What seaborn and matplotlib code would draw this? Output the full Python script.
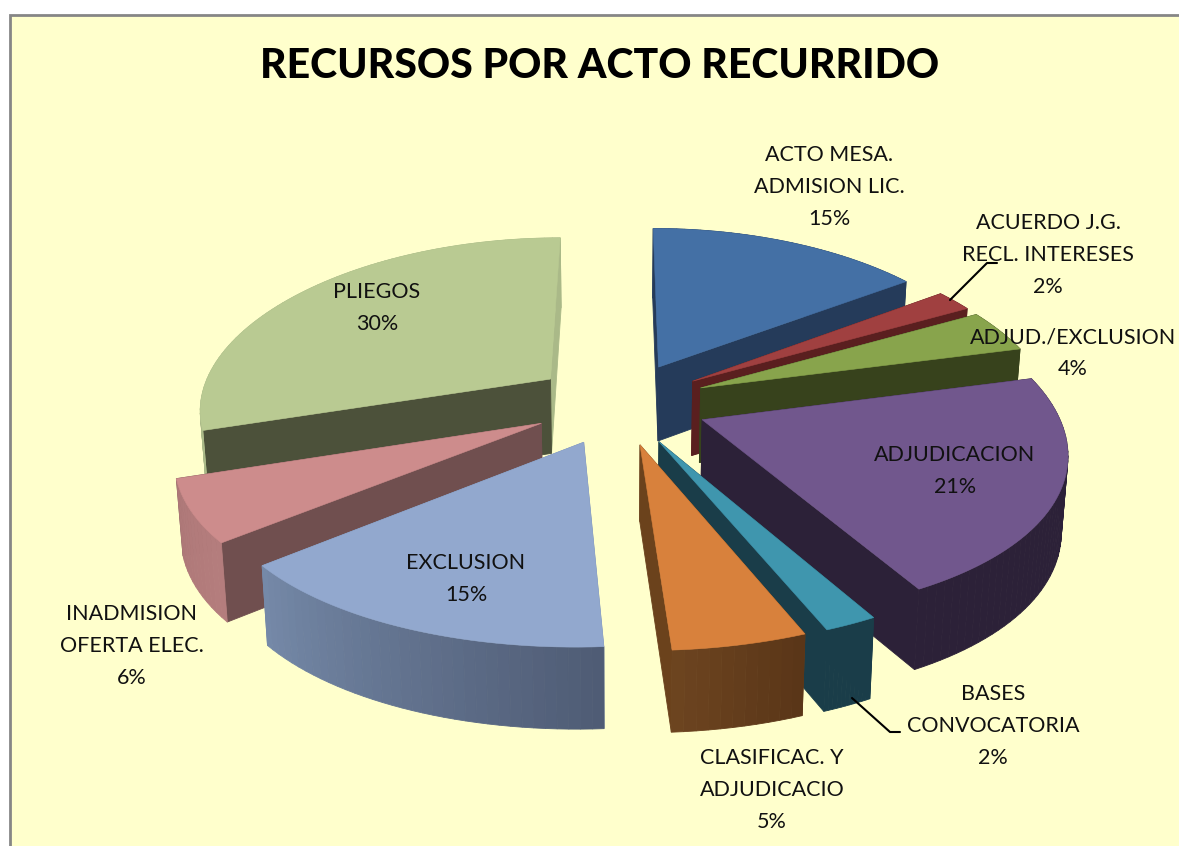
import numpy as np
import matplotlib
matplotlib.use("Agg")
import matplotlib.pyplot as plt
import seaborn as sns

# Chart data
categories = ["ACTO MESA.\nADMISION LIC.", "ACUERDO J.G.\nRECL. INTERESES", "ADJUD./EXCLUSION",
              "ADJUDICACION", "BASES\nCONVOCATORIA", "CLASIFICAC. Y\nADJUDICACIO",
              "EXCLUSION", "INADMISION\nOFERTA ELEC.", "PLIEGOS"]
values = [15, 2, 4, 21, 2, 5, 15, 6, 30]

# Colours: top face, side walls, rim start, rim end
top_colors = ["#4470A5", "#A04040", "#88A44C", "#71578D", "#3F96AE", "#D8813C", "#92A8CE", "#CD8C8C", "#B9CA92"]
wall_colors = ["#253B5A", "#5A1F1F", "#37421C", "#2C2138", "#1A3D49", "#6B421C", "#7A8FB0", "#704F4F", "#4C513A"]
end_wall_colors = ["#253B5A", "#5A1F1F", "#37421C", "#2C2138", "#1A3D49", "#6B421C", "#7A8FB0", "#704F4F", "#AAB988"]
rim_start = ["#253B5A", "#5A1F1F", "#37421C", "#2C2138", "#1A3D49", "#5A3618", "#4F5C75", "#B47D7D", "#AAB988"]
rim_end = ["#253B5A", "#5A1F1F", "#37421C", "#2C2138", "#1A3D49", "#6E4520", "#768AA9", "#AE7878", "#AAB988"]

# Label centres in pixels
label_pos = [(829, 187), (1048, 255), (1073, 353), (955, 471), (993, 726), (772, 790), (466, 579), (132, 646), (377, 308)]

# Projection of the tilted pie
cx, cy = 620, 403
R, A = 352, 166
dist = 7.5
dist_x = 6.0
explode = 0.25
height = 75


def project(x, y, down=False):
    s = dist / (dist + y)
    px = cx + R * x * dist_x / (dist_x + y)
    py = cy - A * y * s
    if down:
        px = cx + (px - cx) * 0.985
        py = py + height * s ** 0.5
    return px, py


def quad(x1, y1, x2, y2):
    a = project(x1, y1)
    b = project(x2, y2)
    c = project(x2, y2, True)
    d = project(x1, y1, True)
    return [a[0], b[0], c[0], d[0]], [a[1], b[1], c[1], d[1]]


sns.set_theme(style="white")
plt.rcParams['font.family'] = ['Lato', 'DejaVu Sans']

fig = plt.figure(figsize=(11.79, 8.46), dpi=100)
ax = fig.add_axes([0, 0, 1, 1])
ax.set_xlim(0, 1179)
ax.set_ylim(846, 0)
ax.axis("off")

# Chart area with its grey frame
ax.fill([10, 1185, 1185, 10], [15, 15, 855, 855], facecolor="#FFFFCC", edgecolor="#868686", linewidth=2, zorder=0)

# Work out every slice from the values
fractions = np.array(values) / sum(values)
ends = np.cumsum(fractions) * 2 * np.pi
starts = ends - fractions * 2 * np.pi

slices = []
for i in range(len(values)):
    mid = (starts[i] + ends[i]) / 2
    ox, oy = explode * np.sin(mid), explode * np.cos(mid)
    theta = np.linspace(starts[i], ends[i], max(int(fractions[i] * 240), 12))
    xs = ox + np.sin(theta)
    ys = oy + np.cos(theta)
    slices.append((oy + np.cos(mid) * 0.5, i, ox, oy, xs, ys))

# Back to front
z = 1
for _, i, ox, oy, xs, ys in sorted(slices, key=lambda t: -t[0]):
    rim = sns.blend_palette([rim_start[i], rim_end[i]], len(xs))
    faces = []
    for k in range(len(xs) - 1):
        faces.append(((ys[k] + ys[k + 1]) / 2, quad(xs[k], ys[k], xs[k + 1], ys[k + 1]), rim[k]))
    faces.append(((oy + ys[0]) / 2, quad(ox, oy, xs[0], ys[0]), wall_colors[i]))
    faces.append(((oy + ys[-1]) / 2, quad(ox, oy, xs[-1], ys[-1]), end_wall_colors[i]))
    for _, (qx, qy), col in sorted(faces, key=lambda f: -f[0]):
        ax.fill(qx, qy, color=col, linewidth=0.6, zorder=z)
        z += 1
    tx, ty = project(np.r_[ox, xs], np.r_[oy, ys])
    ax.fill(tx, ty, color=top_colors[i], linewidth=0.4, zorder=z)
    z += 1

# Leader lines for the two small slices
ax.plot([950, 987, 997], [300, 263, 263], color="black", lw=1.5, zorder=z)
ax.plot([852, 890, 900], [698, 732, 732], color="black", lw=1.5, zorder=z)

# Labels
for name, val, (lx, ly) in zip(categories, values, label_pos):
    ax.text(lx, ly, f"{name}\n{val}%", ha="center", va="center", fontsize=15.5, color="#111111",
            linespacing=1.72, zorder=z + 1)

ax.text(600, 66, "RECURSOS POR ACTO RECURRIDO", ha="center", va="center", fontsize=29.5,
        fontweight="black", color="black", zorder=z + 1)

fig.savefig("out.png", dpi=100)
